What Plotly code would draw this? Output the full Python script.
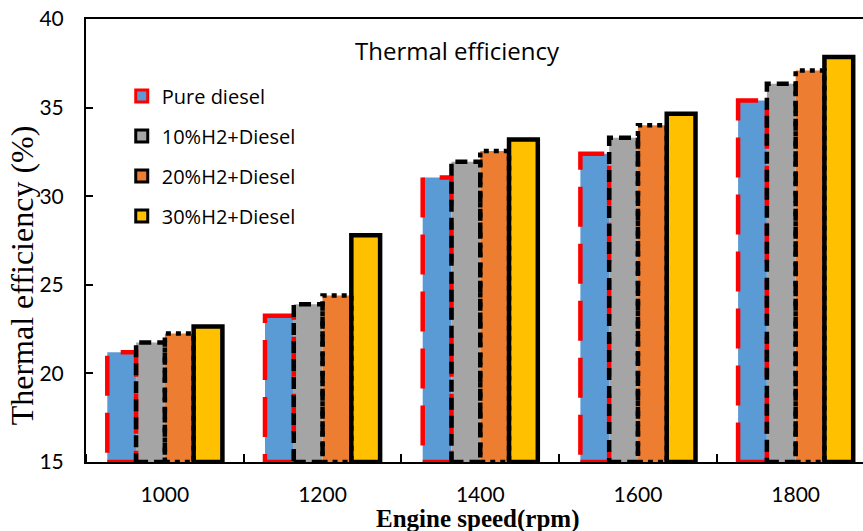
import plotly.graph_objects as go

categories = ["1000", "1200", "1400", "1600", "1800"]
series_names = ["Pure diesel", "10%H2+Diesel", "20%H2+Diesel", "30%H2+Diesel"]
pure_diesel = [21.2, 23.25, 31.05, 32.4, 35.4]
h2_10 = [21.75, 23.9, 31.95, 33.3, 36.35]
h2_20 = [22.25, 24.4, 32.55, 34.0, 37.1]
h2_30 = [22.65, 27.8, 33.2, 34.65, 37.85]
y_ticks = [15, 20, 25, 30, 35, 40]

series = [pure_diesel, h2_10, h2_20, h2_30]
fills = ["#5B9BD5", "#A5A5A5", "#ED7D31", "#FFC000"]
edge_colors = ["#FF0000", "#000000", "#000000", "#000000"]
edge_dash = ["40px,17px", "12px,6px", "5px,5px", "solid"]
edge_width = [4.5, 4.5, 4.5, 4.5]

YMIN, YMAX = 15, 40
bar_w = 0.1825
group_start = -2 * bar_w
xpos = list(range(len(categories)))

fig = go.Figure()
shapes = []
for k, (name, vals) in enumerate(zip(series_names, series)):
    off = group_start + k * bar_w
    fig.add_trace(go.Bar(
        x=xpos, y=[v - YMIN for v in vals], base=YMIN,
        offset=off, width=bar_w,
        marker=dict(color=fills[k], line=dict(width=0)),
        showlegend=False, hoverinfo="skip",
    ))
    # legend entry
    fig.add_trace(go.Bar(
        x=[None], y=[None], name=name, legendgroup=name,
        marker=dict(color=fills[k], line=dict(color=edge_colors[k], width=3)),
    ))
    for i, v in enumerate(vals):
        shapes.append(dict(
            type="rect", xref="x", yref="y", layer="above",
            x0=i + off, x1=i + off + bar_w, y0=YMIN, y1=v,
            line=dict(color=edge_colors[k], width=edge_width[k], dash=edge_dash[k]),
        ))

tick_font = dict(family="Lato", size=21, color="#000000")

fig.update_layout(
    width=863, height=531,
    margin=dict(l=86, r=0, t=19, b=69),
    paper_bgcolor="white", plot_bgcolor="white",
    barmode="overlay",
    shapes=shapes,
    showlegend=True,
    legend=dict(
        x=0.046, y=0.87, xanchor="left", yanchor="top",
        font=dict(family="Open Sans", size=20, color="#000000"),
        bgcolor="rgba(0,0,0,0)", tracegroupgap=11,
    ),
    xaxis=dict(
        range=[-0.5, -0.5 + 777 / 157.7],
        tickmode="array", tickvals=xpos, ticktext=categories,
        ticks="", showgrid=False, zeroline=False,
        showline=True, linecolor="#000000", linewidth=2, mirror=True,
        tickfont=tick_font, ticklabelstandoff=13,
        minor=dict(tick0=0.5, dtick=1, ticks="inside", ticklen=8,
                   tickcolor="#000000", tickwidth=1.5, showgrid=False),
    ),
    yaxis=dict(
        range=[YMIN, YMAX], tickmode="array", tickvals=y_ticks,
        ticks="inside", ticklen=7, tickwidth=1.5, tickcolor="#000000",
        showgrid=False, zeroline=False,
        showline=True, linecolor="#000000", linewidth=2,
        tickfont=tick_font, ticklabelstandoff=16,
    ),
    annotations=[
        dict(text="Thermal efficiency", xref="paper", yref="paper",
             x=0.4775, y=0.93, xanchor="center", yanchor="middle", showarrow=False,
             font=dict(family="Open Sans", size=24, color="#000000")),
        dict(text="Thermal efficiency (%)", xref="paper", yref="paper",
             x=-0.082, y=0.422, xanchor="center", yanchor="middle",
             textangle=-90, showarrow=False,
             font=dict(family="Liberation Serif", size=32, color="#000000")),
        dict(text="<b>Engine speed(rpm)</b>", xref="paper", yref="paper",
             x=0.5045, y=-0.128, xanchor="center", yanchor="middle", showarrow=False,
             font=dict(family="Liberation Serif", size=25, color="#000000")),
    ],
)

fig.write_html("out.html", config={"displayModeBar": False},
               post_script="document.body.style.margin='0px';")
